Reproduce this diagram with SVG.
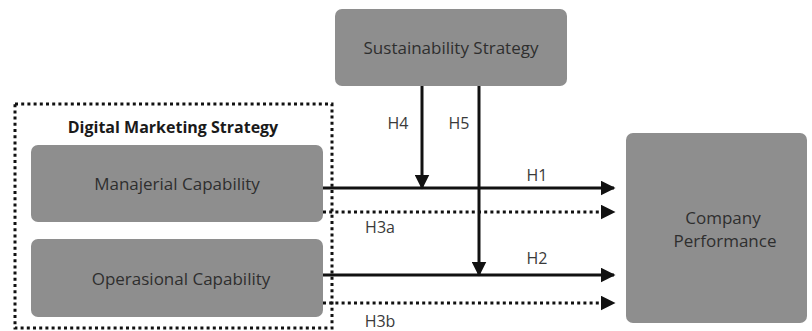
<svg xmlns="http://www.w3.org/2000/svg" width="812" height="331" viewBox="0 0 812 331">
  <defs>
    <marker id="arrow" viewBox="0 0 10 10" refX="9" refY="5" markerWidth="5" markerHeight="5" markerUnits="strokeWidth" orient="auto">
      <path d="M0,0 L10,5 L0,10 Z" fill="#111"/>
    </marker>
    <style>
      .node { fill: #8e8e8e; }
      .label { font-family: "Open Sans", "Noto Sans", sans-serif; font-size: 17px; fill: #2e2e2e; text-anchor: middle; }
      .hyp { font-family: "Open Sans", "Noto Sans", sans-serif; font-size: 16px; fill: #3a3a3a; text-anchor: middle; }
      .solid { stroke: #111; stroke-width: 3; fill: none; }
      .dotted { stroke: #111; stroke-width: 3; fill: none; stroke-dasharray: 3 3.2; }
    </style>
  </defs>
  <rect width="812" height="331" fill="#ffffff"/>

  <!-- Digital Marketing Strategy group frame -->
  <g id="digital-marketing-strategy">
    <rect x="15" y="104" width="317" height="224" class="dotted"/>
    <text x="173" y="133" font-family="'Open Sans', 'Noto Sans', sans-serif" font-size="16" font-weight="bold" fill="#1a1a1a" text-anchor="middle">Digital Marketing Strategy</text>
  </g>

  <g id="managerial-capability">
    <rect x="31" y="145" width="292" height="77" rx="7" class="node"/>
    <text x="177" y="190" class="label">Manajerial Capability</text>
  </g>

  <g id="operational-capability">
    <rect x="31" y="239" width="292" height="78" rx="7" class="node"/>
    <text x="181" y="285" class="label">Operasional Capability</text>
  </g>

  <g id="sustainability-strategy">
    <rect x="335" y="9" width="232" height="77" rx="7" class="node"/>
    <text x="451" y="54" class="label">Sustainability Strategy</text>
  </g>

  <g id="company-performance">
    <rect x="626" y="133" width="181" height="190" rx="7" class="node"/>
    <text x="723" y="224" class="label">Company</text>
    <text x="725" y="247" class="label">Performance</text>
  </g>

  <!-- Hypothesised paths -->
  <g id="connectors">
    <line x1="323" y1="188" x2="614" y2="188" class="solid" marker-end="url(#arrow)"/>
    <line x1="323" y1="212" x2="614" y2="212" class="dotted" marker-end="url(#arrow)"/>
    <line x1="323" y1="275" x2="614" y2="275" class="solid" marker-end="url(#arrow)"/>
    <line x1="323" y1="303" x2="614" y2="303" class="dotted" marker-end="url(#arrow)"/>
    <line x1="422" y1="86" x2="422" y2="188" class="solid" marker-end="url(#arrow)"/>
    <line x1="479" y1="86" x2="479" y2="275" class="solid" marker-end="url(#arrow)"/>

    <text x="398" y="129" class="hyp">H4</text>
    <text x="459" y="129" class="hyp">H5</text>
    <text x="537" y="181" class="hyp">H1</text>
    <text x="380" y="233" class="hyp">H3a</text>
    <text x="537" y="264" class="hyp">H2</text>
    <text x="380" y="327" class="hyp">H3b</text>
  </g>
</svg>
